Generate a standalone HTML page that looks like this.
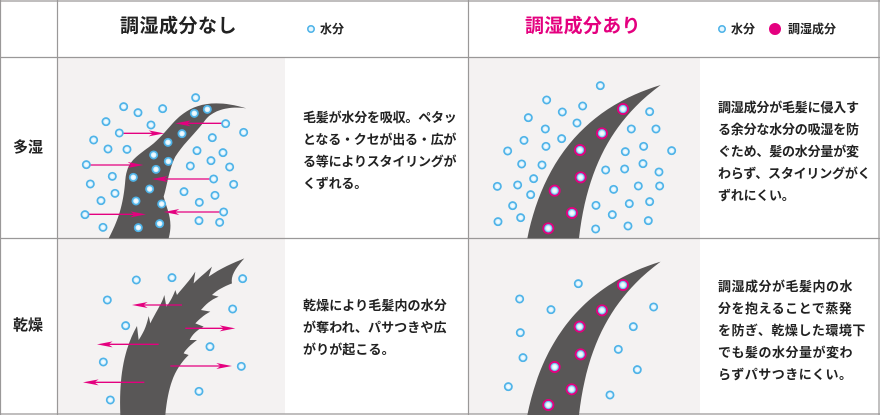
<!DOCTYPE html>
<html><head><meta charset="utf-8"><style>
body{margin:0;width:880px;height:415px;overflow:hidden;background:#fff;font-family:"Liberation Sans","Noto Sans CJK JP",sans-serif;}
.t{position:absolute;font-size:13px;font-weight:bold;color:#222;white-space:nowrap;line-height:22px;}
</style></head><body>
<svg width="880" height="415" style="position:absolute;left:0;top:0" xmlns="http://www.w3.org/2000/svg">
<defs>
<radialGradient id="bd"><stop offset="0" stop-color="#fff"/><stop offset="0.45" stop-color="#e8f7fe"/><stop offset="1" stop-color="#a9dcf6"/></radialGradient>
<g id="b"><circle r="11" fill="url(#bd)" stroke="#4fb3e8" stroke-width="5"/></g>
<g id="p"><circle r="18" fill="#e4007f"/><circle r="11" fill="url(#bd)" stroke="#6cc3ee" stroke-width="3"/></g>
</defs>
<rect x="58" y="58" width="227" height="180" fill="#f4f2f2"/>
<rect x="469" y="58" width="231" height="180" fill="#f4f2f2"/>
<rect x="58" y="239" width="227" height="175" fill="#f4f2f2"/>
<rect x="469" y="239" width="231" height="175" fill="#f4f2f2"/>
<g stroke="#9a9898" stroke-width="1.2" fill="none">
<line x1="0" y1="1" x2="880" y2="1"/><line x1="0" y1="57.5" x2="880" y2="57.5"/><line x1="0" y1="238.5" x2="880" y2="238.5"/><line x1="0" y1="414" x2="880" y2="414"/>
<line x1="0.5" y1="0" x2="0.5" y2="415"/><line x1="57.5" y1="0" x2="57.5" y2="415"/><line x1="468.5" y1="0" x2="468.5" y2="415"/><line x1="879" y1="0" x2="879" y2="415"/>
</g>
<!-- panel 1 -->
<g transform="translate(57,60) scale(0.3333)">
<path d="M155,535 C190,470 200,420 205,360 C210,300 240,290 290,250 C330,215 350,180 380,160 C420,130 480,118 568,145 C520,138 470,148 445,180 C420,215 380,250 355,290 C335,330 330,380 320,410 C330,450 350,480 335,535 Z" fill="#595757"/>
<g stroke="#e4007f" stroke-width="4" fill="none">
<line x1="195" y1="220" x2="300" y2="220"/><line x1="495" y1="190" x2="375" y2="190"/><line x1="95" y1="315" x2="235" y2="315"/><line x1="468" y1="357" x2="305" y2="357"/><line x1="92" y1="463" x2="245" y2="463"/><line x1="495" y1="456" x2="340" y2="456"/>
</g>
<g fill="#e4007f">
<polygon points="275,211 322,220 275,229 288,220"/><polygon points="402,181 355,190 402,199 389,190"/>
<polygon points="212,306 259,315 212,324 225,315"/><polygon points="332,348 285,357 332,366 319,357"/>
<polygon points="220,454 267,463 220,472 233,463"/><polygon points="367,447 320,456 367,465 354,456"/>
</g>
<use href="#b" x="200" y="140"/><use href="#b" x="243" y="158"/><use href="#b" x="317" y="146"/><use href="#b" x="416" y="113"/><use href="#b" x="147" y="185"/><use href="#b" x="282" y="195"/><use href="#b" x="412" y="160"/><use href="#b" x="451" y="148"/><use href="#b" x="506" y="191"/><use href="#b" x="560" y="217"/><use href="#b" x="187" y="219"/><use href="#b" x="110" y="240"/><use href="#b" x="153" y="267"/><use href="#b" x="210" y="268"/><use href="#b" x="375" y="221"/><use href="#b" x="333" y="247"/><use href="#b" x="466" y="233"/><use href="#b" x="420" y="272"/><use href="#b" x="498" y="278"/><use href="#b" x="88" y="314"/><use href="#b" x="290" y="285"/><use href="#b" x="334" y="304"/><use href="#b" x="297" y="328"/><use href="#b" x="462" y="302"/><use href="#b" x="518" y="321"/><use href="#b" x="400" y="318"/><use href="#b" x="166" y="349"/><use href="#b" x="229" y="352"/><use href="#b" x="100" y="372"/><use href="#b" x="470" y="357"/><use href="#b" x="530" y="373"/><use href="#b" x="174" y="400"/><use href="#b" x="278" y="387"/><use href="#b" x="381" y="395"/><use href="#b" x="474" y="406"/><use href="#b" x="132" y="422"/><use href="#b" x="237" y="423"/><use href="#b" x="314" y="432"/><use href="#b" x="427" y="427"/><use href="#b" x="500" y="456"/><use href="#b" x="84" y="464"/><use href="#b" x="138" y="502"/><use href="#b" x="244" y="503"/><use href="#b" x="308" y="491"/><use href="#b" x="426" y="482"/><use href="#b" x="488" y="487"/>
</g>
<!-- panel 2 -->
<g transform="translate(468,60) scale(0.3333)">
<path d="M178,535 C220,330 330,150 578,75 C450,170 360,300 333,535 Z" fill="#595757"/>
<use href="#b" x="397" y="77"/><use href="#b" x="236" y="120"/><use href="#b" x="344" y="138"/><use href="#b" x="283" y="156"/><use href="#b" x="181" y="173"/><use href="#b" x="545" y="155"/><use href="#b" x="327" y="189"/><use href="#b" x="232" y="207"/><use href="#b" x="490" y="207"/><use href="#b" x="564" y="207"/><use href="#b" x="168" y="241"/><use href="#b" x="281" y="236"/><use href="#b" x="234" y="259"/><use href="#b" x="119" y="273"/><use href="#b" x="472" y="275"/><use href="#b" x="527" y="259"/><use href="#b" x="611" y="272"/><use href="#b" x="161" y="312"/><use href="#b" x="222" y="315"/><use href="#b" x="413" y="330"/><use href="#b" x="470" y="327"/><use href="#b" x="525" y="311"/><use href="#b" x="573" y="336"/><use href="#b" x="197" y="356"/><use href="#b" x="88" y="379"/><use href="#b" x="149" y="375"/><use href="#b" x="437" y="388"/><use href="#b" x="511" y="378"/><use href="#b" x="575" y="378"/><use href="#b" x="188" y="404"/><use href="#b" x="134" y="437"/><use href="#b" x="384" y="436"/><use href="#b" x="484" y="431"/><use href="#b" x="545" y="425"/><use href="#b" x="433" y="464"/><use href="#b" x="158" y="473"/><use href="#b" x="90" y="485"/><use href="#b" x="480" y="498"/><use href="#b" x="541" y="482"/><use href="#b" x="383" y="507"/>
<use href="#p" x="465" y="147"/><use href="#p" x="402" y="220"/><use href="#p" x="336" y="270"/><use href="#p" x="338" y="352"/><use href="#p" x="260" y="392"/><use href="#p" x="312" y="459"/><use href="#p" x="241" y="505"/>
</g>
<!-- panel 3 -->
<g transform="translate(57,240) scale(0.3333)">
<path d="M190,525 C185,400 205,320 240,258 L245,300 C265,270 270,250 275,228 L280,250 C300,210 315,190 322,165 L328,200 C340,185 350,165 355,150 L360,165 C380,140 400,120 415,95 L410,130 C430,110 450,95 465,80 L455,110 C490,85 530,68 562,55 C540,80 520,105 525,130 C500,140 480,150 465,165 L485,170 C460,180 445,195 432,210 L460,215 C440,225 425,240 415,250 L440,260 C420,270 405,285 398,300 L420,300 C400,315 385,330 380,340 L395,345 C360,380 335,420 325,525 Z" fill="#595757"/>
<g stroke="#e4007f" stroke-width="4" fill="none">
<line x1="375" y1="195" x2="245" y2="195"/><line x1="305" y1="313" x2="140" y2="313"/><line x1="262" y1="427" x2="98" y2="427"/><line x1="385" y1="265" x2="515" y2="265"/><line x1="340" y1="378" x2="505" y2="378"/>
</g>
<g fill="#e4007f">
<polygon points="272,186 225,195 272,204 259,195"/><polygon points="167,304 120,313 167,322 154,313"/><polygon points="125,418 78,427 125,436 112,427"/>
<polygon points="488,256 535,265 488,274 501,265"/><polygon points="478,369 525,378 478,387 491,378"/>
</g>
<use href="#b" x="238" y="120"/><use href="#b" x="345" y="113"/><use href="#b" x="557" y="116"/><use href="#b" x="151" y="180"/><use href="#b" x="527" y="207"/><use href="#b" x="206" y="257"/><use href="#b" x="459" y="320"/><use href="#b" x="139" y="366"/><use href="#b" x="553" y="379"/><use href="#b" x="160" y="480"/><use href="#b" x="426" y="454"/>
</g>
<!-- panel 4 -->
<g transform="translate(468,240) scale(0.3333)">
<path d="M178,525 C220,320 330,140 578,65 C450,160 360,290 333,525 Z" fill="#595757"/>
<use href="#b" x="331" y="131"/><use href="#b" x="155" y="177"/><use href="#b" x="249" y="209"/><use href="#b" x="557" y="201"/><use href="#b" x="496" y="260"/><use href="#b" x="157" y="278"/><use href="#b" x="451" y="328"/><use href="#b" x="165" y="353"/><use href="#b" x="508" y="389"/><use href="#b" x="121" y="440"/><use href="#b" x="426" y="465"/>
<use href="#p" x="465" y="135"/><use href="#p" x="402" y="211"/><use href="#p" x="335" y="260"/><use href="#p" x="338" y="343"/><use href="#p" x="260" y="381"/><use href="#p" x="311" y="448"/><use href="#p" x="241" y="495"/>
</g>
<!-- legends -->
<circle cx="311" cy="29" r="3.2" fill="#e8f7fe" stroke="#4fb3e8" stroke-width="1.6"/>
<circle cx="722" cy="29" r="3.2" fill="#e8f7fe" stroke="#4fb3e8" stroke-width="1.6"/>
<circle cx="775" cy="29" r="6" fill="#e4007f"/>
</svg>
<div class="t" style="left:120px;top:14px;font-size:19px;line-height:26px;color:#222;letter-spacing:0.5px">調湿成分なし</div>
<div class="t" style="left:320px;top:20px;font-size:12px;line-height:18px">水分</div>
<div class="t" style="left:525px;top:14px;font-size:19px;line-height:26px;color:#e4007f;letter-spacing:0.3px">調湿成分あり</div>
<div class="t" style="left:731px;top:20px;font-size:12px;line-height:18px">水分</div>
<div class="t" style="left:788px;top:20px;font-size:12px;line-height:18px">調湿成分</div>
<div class="t" style="left:13px;top:137px;font-size:15px">多湿</div>
<div class="t" style="left:13px;top:315px;font-size:15px">乾燥</div>
<div class="t" style="left:303px;top:107px;letter-spacing:-0.2px">毛髪が水分を吸収。ペタッ<br>となる・クセが出る・広が<br>る等によりスタイリングが<br>くずれる。</div>
<div class="t" style="left:718px;top:97px;letter-spacing:-0.2px">調湿成分が毛髪に侵入す<br>る余分な水分の吸湿を防<br>ぐため、髪の水分量が変<br>わらず、スタイリングがく<br>ずれにくい。</div>
<div class="t" style="left:303px;top:295px;letter-spacing:0.1px">乾燥により毛髪内の水分<br>が奪われ、パサつきや広<br>がりが起こる。</div>
<div class="t" style="left:718px;top:276px;letter-spacing:0.5px">調湿成分が毛髪内の水<br>分を抱えることで蒸発<br>を防ぎ、乾燥した環境下<br>でも髪の水分量が変わ<br>らずパサつきにくい。</div>
</body></html>
